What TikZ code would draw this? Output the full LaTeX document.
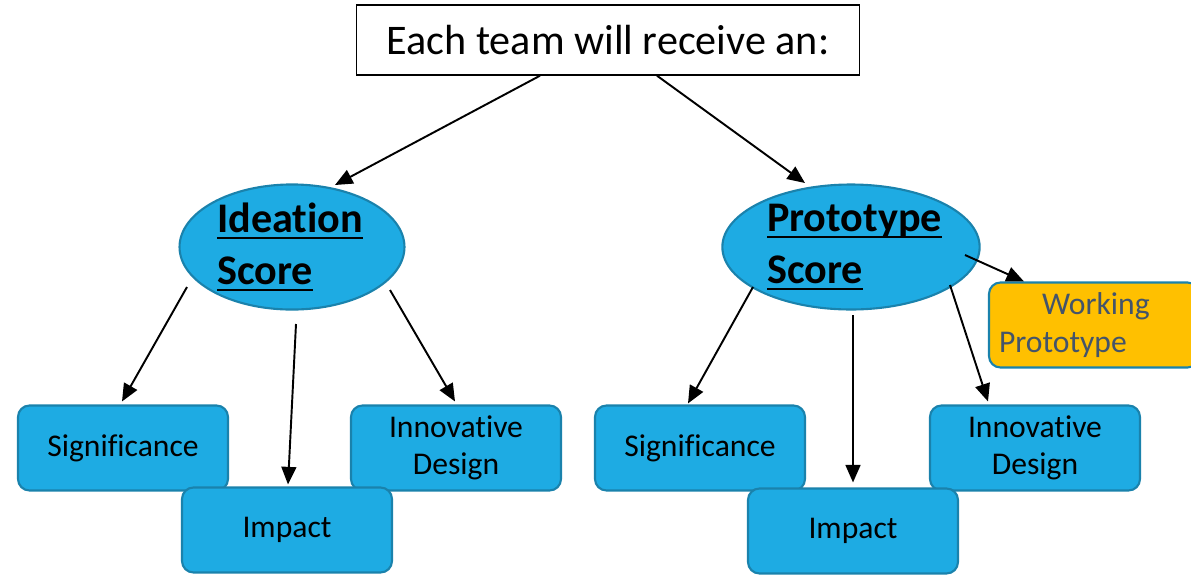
\documentclass[tikz,border=0pt]{standalone}
\usepackage{fontspec}
\setmainfont{Carlito}[Ligatures=NoCommon]
\usepackage{tikz}
\usetikzlibrary{arrows.meta,calc,shapes.geometric}

\definecolor{boxblue}{HTML}{1EABE3}
\definecolor{edgeblue}{HTML}{1A82AC}
\definecolor{workgold}{HTML}{FFC000}
\definecolor{workink}{HTML}{44546A}

% underline at a fixed depth, through descenders
\newcommand{\scoreline}[1]{\setbox0\hbox{#1}\rlap{\rule[-4pt]{\wd0}{1.3pt}}\box0}

\tikzset{
  crit/.style={draw=edgeblue, line width=1.2pt, fill=boxblue, rounded corners=6.5pt,
    minimum width=4.2cm, minimum height=1.7cm, align=center,
    font=\fontsize{18}{21}\selectfont},
  score/.style={ellipse, draw=edgeblue, line width=1.2pt, fill=boxblue,
    minimum width=4.5cm, minimum height=2.4cm, inner sep=0pt, align=left,
    font=\fontsize{24}{28.5}\selectfont\bfseries},
  headbox/.style={draw, fill=white, line width=0.8pt, minimum width=10.06cm,
    minimum height=1.4cm, font=\fontsize{24}{28}\selectfont}
}

\begin{document}
\begin{tikzpicture}[->,>={Triangle[length=10pt,width=8.5pt]},line width=1.1pt,
                    x=0.02cm,y=-0.02cm]
    \useasboundingbox (0,0) rectangle (1191,576);

    \node[headbox] (team) at (608,40) {Each team will receive an:};

    \node[score] (ideation) at (292,247)
        {\hspace*{-2pt}\scoreline{Ideation}\\[1pt]\hspace*{-2pt}\scoreline{Score}};
    \node[score, minimum width=4.54cm, minimum height=2.5cm] (proto) at (851,247)
        {\hspace*{4pt}\scoreline{Prototype}\\[1pt]\hspace*{4pt}\scoreline{Score}};

    % left criteria
    \node[crit] (sigA) at (123,448) {Signif\kern0pt icance};
    \node[crit] (innA) at (456,448) {Innovat\kern0pt ive\\Design};
    \node[crit] (impA) at (287,530) {Impact};

    % right criteria
    \node[crit] (sigB) at (700,448) {Signif\kern0pt icance};
    \node[crit] (innB) at (1035,448) {Innovat\kern0pt ive\\Design};
    \node[crit] (impB) at (853,531) {Impact};
    \node[crit, fill=workgold, text=workink, align=left, text width=3.8cm,
          inner xsep=0.2cm, font=\fontsize{18}{21.5}\selectfont] (work) at (1094,325)
        {\hspace*{0.86cm}Working\\Prototype};

    \draw ($(team.south)+(-68,0)$) -- ($(ideation.center)+(43,-62)$);
    \draw ($(team.south)+(49,0)$) -- ($(proto.center)+(-46,-64)$);

    \draw ($(ideation.center)+(-105,40)$) -- ($(sigA.north)+(-1,-3)$);
    \draw ($(ideation.center)+(4,77)$) -- ($(impA.north)+(1,-2)$);
    \draw ($(ideation.center)+(98,43)$) -- ($(innA.north)+(-1,-3)$);

    \draw ($(proto.center)+(-98,40)$) -- ($(sigB.north)+(-12,-1)$);
    \draw ($(proto.center)+(2,68)$) -- ($(impB.north)+(0,-5)$);
    \draw ($(proto.center)+(99,38)$) -- ($(innB.north)+(-47,-3)$);
    \draw ($(proto.center)+(114,8)$) -- ($(work.north west)+(36,0)$);
\end{tikzpicture}
\end{document}
